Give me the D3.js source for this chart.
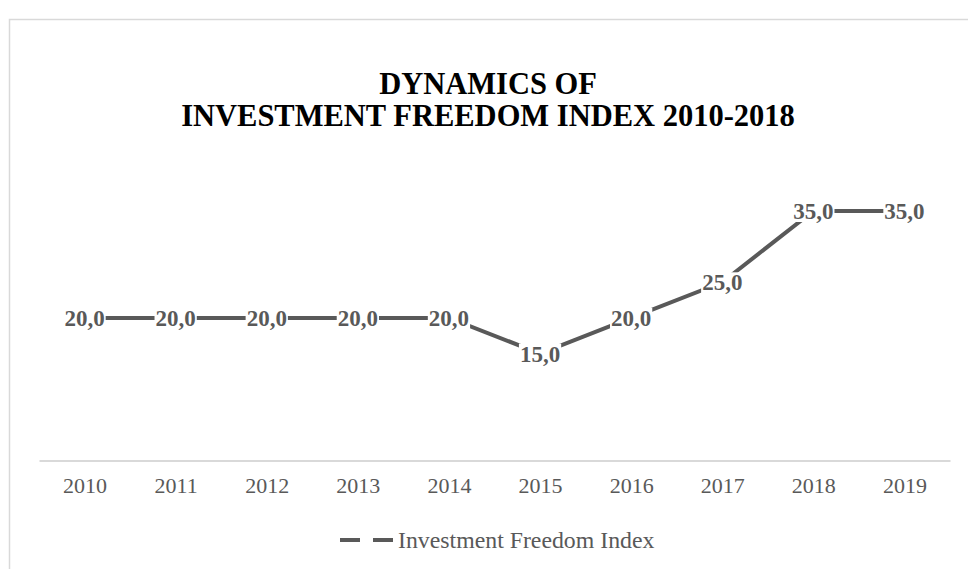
<!DOCTYPE html>
<html>
<head>
<meta charset="utf-8">
<script src="https://cdn.jsdelivr.net/npm/d3@7"></script>
<style>
  html, body { margin: 0; padding: 0; background: #fff; }
  svg { display: block; }
</style>
</head>
<body>
<svg id="chart" width="968" height="569"></svg>
<script>
// Investment Freedom Index by year
const years = ["2010", "2011", "2012", "2013", "2014", "2015", "2016", "2017", "2018", "2019"];
const indexValues = [20, 20, 20, 20, 20, 15, 20, 25, 35, 35];
const titleLines = ["DYNAMICS OF", "INVESTMENT FREEDOM INDEX 2010-2018"];
const seriesName = "Investment Freedom Index";

const W = 968, H = 569;
const svg = d3.select("#chart");
const serif = "'Liberation Serif', 'Times New Roman', serif";
const lineColor = "#595959";

// chart frame
svg.append("rect")
  .attr("x", 9.5).attr("y", 19.5)
  .attr("width", W + 20).attr("height", H + 20)
  .attr("fill", "#fff")
  .attr("stroke", "#d9d9d9")
  .attr("stroke-width", 1.5);

// title, one text element per line
svg.append("g")
  .attr("text-anchor", "middle")
  .attr("font-family", serif)
  .attr("font-weight", "bold")
  .attr("font-size", 30.5)
  .attr("fill", "#000")
  .selectAll("text")
  .data(titleLines)
  .join("text")
  .attr("x", 488)
  .attr("y", (d, i) => 94 + i * 32)
  .text(d => d);

// scales
const x = d3.scalePoint().domain(years).range([39, 950]).padding(0.5);
const y = d3.scaleLinear().domain([0, 40]).range([460.5, 175.3]);

// category axis
const xAxis = d3.axisBottom(x).tickSize(0).tickPadding(17);
const gx = svg.append("g").attr("transform", `translate(0,${y(0)})`).call(xAxis);
gx.select(".domain").attr("stroke", "#d9d9d9").attr("stroke-width", 2);
gx.selectAll("text")
  .attr("font-family", serif)
  .attr("font-size", 22)
  .attr("fill", lineColor);

// series line
const line = d3.line()
  .x((d, i) => x(years[i]))
  .y(d => y(d));

svg.append("path")
  .datum(indexValues)
  .attr("fill", "none")
  .attr("stroke", lineColor)
  .attr("stroke-width", 4)
  .attr("d", line);

// value labels, centred on each point with a white backing
const fmt = v => d3.format(".1f")(v).replace(".", ",");
const labels = svg.append("g")
  .attr("font-family", serif)
  .attr("font-weight", "bold")
  .attr("font-size", 23)
  .attr("fill", lineColor);

const lab = labels.selectAll("g")
  .data(indexValues)
  .join("g")
  .attr("transform", (d, i) => `translate(${x(years[i])},${y(d)})`);

lab.append("text")
  .attr("text-anchor", "middle")
  .attr("dy", "0.35em")
  .text(d => fmt(d))
  .each(function () {
    const b = this.getBBox();
    d3.select(this.parentNode).insert("rect", "text")
      .attr("x", b.x - 1).attr("y", b.y + 2)
      .attr("width", b.width + 2).attr("height", b.height - 4)
      .attr("fill", "#fff");
  });

// legend
const lg = svg.append("g").attr("transform", "translate(0,540)");
lg.append("line").attr("x1", 340).attr("x2", 360).attr("y1", 0).attr("y2", 0)
  .attr("stroke", lineColor).attr("stroke-width", 4);
lg.append("line").attr("x1", 373).attr("x2", 393).attr("y1", 0).attr("y2", 0)
  .attr("stroke", lineColor).attr("stroke-width", 4);
lg.append("text")
  .attr("x", 398).attr("y", 0).attr("dy", "0.35em")
  .attr("font-family", serif)
  .attr("font-size", 23.8)
  .attr("fill", lineColor)
  .text(seriesName);
</script>
</body>
</html>
